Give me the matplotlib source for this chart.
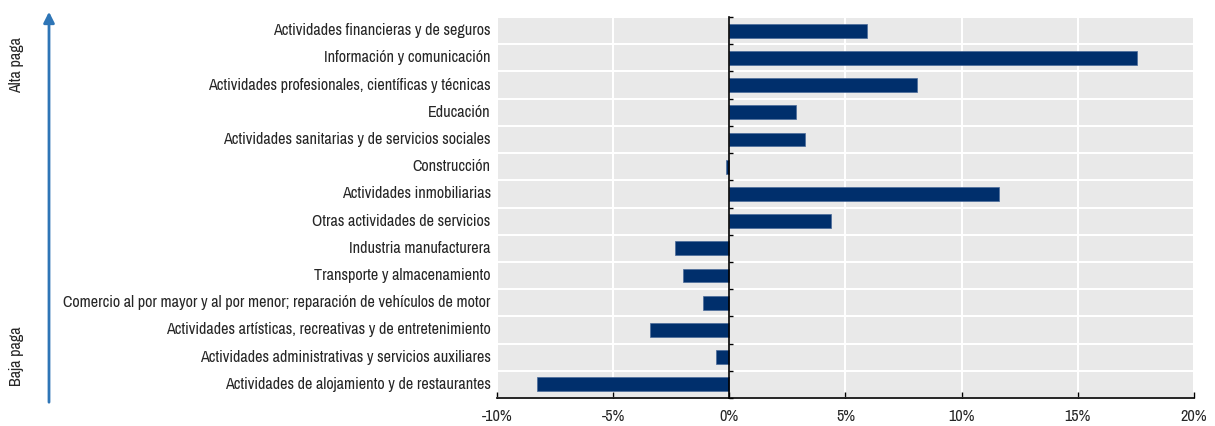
import matplotlib
matplotlib.use("Agg")
import matplotlib.pyplot as plt
from matplotlib.ticker import FuncFormatter, FixedLocator
import matplotlib.transforms as mtransforms
from matplotlib.patches import FancyArrowPatch

plt.rcParams['font.family'] = ['Archivo Narrow', 'Liberation Sans', 'DejaVu Sans']

sectors = [
    "Actividades financieras y de seguros",
    "Información y comunicación",
    "Actividades profesionales, científicas y técnicas",
    "Educación",
    "Actividades sanitarias y de servicios sociales",
    "Construcción",
    "Actividades inmobiliarias",
    "Otras actividades de servicios",
    "Industria manufacturera",
    "Transporte y almacenamiento",
    "Comercio al por mayor y al por menor; reparación de vehículos de motor",
    "Actividades artísticas, recreativas y de entretenimiento",
    "Actividades administrativas y servicios auxiliares",
    "Actividades de alojamiento y de restaurantes",
]
change_pct = [5.93, 17.53, 8.08, 2.89, 3.25, -0.15, 11.59, 4.37,
              -2.35, -1.99, -1.14, -3.42, -0.59, -8.26]
x_ticks = [-10, -5, 0, 5, 10, 15, 20]

bar_color = "#002F6C"
bg_color = "#E9E9E9"
text_color = "#262626"
fs = 11.6

W, H = 1215, 426
fig = plt.figure(figsize=(W / 100, H / 100), dpi=100)
ax = fig.add_axes([497 / W, 1 - 398 / H, (1194 - 497) / W, (398 - 17) / H])
ax.set_facecolor(bg_color)

n = len(sectors)
ypos = list(range(n - 1, -1, -1))
ax.barh(ypos, change_pct, height=0.51, color=bar_color, edgecolor="#4A6A9A",
        linewidth=0.5, zorder=3)

ax.set_xlim(x_ticks[0], x_ticks[-1])
ax.set_ylim(-0.5, n - 0.5)

# x axis
ax.xaxis.set_major_locator(FixedLocator(x_ticks))
ax.xaxis.set_major_formatter(FuncFormatter(lambda v, p: f"{int(v)}%"))
ax.tick_params(axis='x', direction='in', length=4, width=1, colors='black',
               labelsize=fs, pad=8, labelcolor=text_color)
ax.grid(axis='x', color='white', linewidth=1.5, zorder=1)

# y axis: spine at zero, ticks at row boundaries
ax.spines['left'].set_position(('data', 0))
ax.yaxis.set_major_locator(FixedLocator(ypos))
ax.yaxis.set_minor_locator(FixedLocator([i + 0.5 for i in range(-1, n)]))
ax.tick_params(axis='y', which='major', length=0, labelleft=False)
ax.tick_params(axis='y', which='minor', direction='in', length=3, width=1, color='black')
ax.grid(axis='y', which='minor', color='white', linewidth=1.5, zorder=1)
ax.grid(axis='y', which='major', visible=False)
for s in ['top', 'right']:
    ax.spines[s].set_visible(False)
ax.spines['left'].set_linewidth(1.2)
ax.spines['left'].set_zorder(4)
ax.spines['bottom'].set_linewidth(1.2)

trans = mtransforms.blended_transform_factory(ax.transAxes, ax.transData)
for y, label in zip(ypos, sectors):
    ax.text(-0.009, y, label, transform=trans, ha='right', va='center',
            fontsize=fs, color=text_color)

# pay-level arrow on the left
fig.patches.append(FancyArrowPatch(
    (49 / W, 1 - 405 / H), (49 / W, 1 - 9 / H),
    transform=fig.transFigure, arrowstyle='-|>', mutation_scale=16,
    color='#2E75B6', linewidth=2))
fig.text(17 / W, 1 - 65 / H, "Alta paga", rotation=90, ha='center',
         va='center', fontsize=fs, color=text_color)
fig.text(17 / W, 1 - 356 / H, "Baja paga", rotation=90, ha='center',
         va='center', fontsize=fs, color=text_color)

fig.savefig("out.png", dpi=100, facecolor='white')
